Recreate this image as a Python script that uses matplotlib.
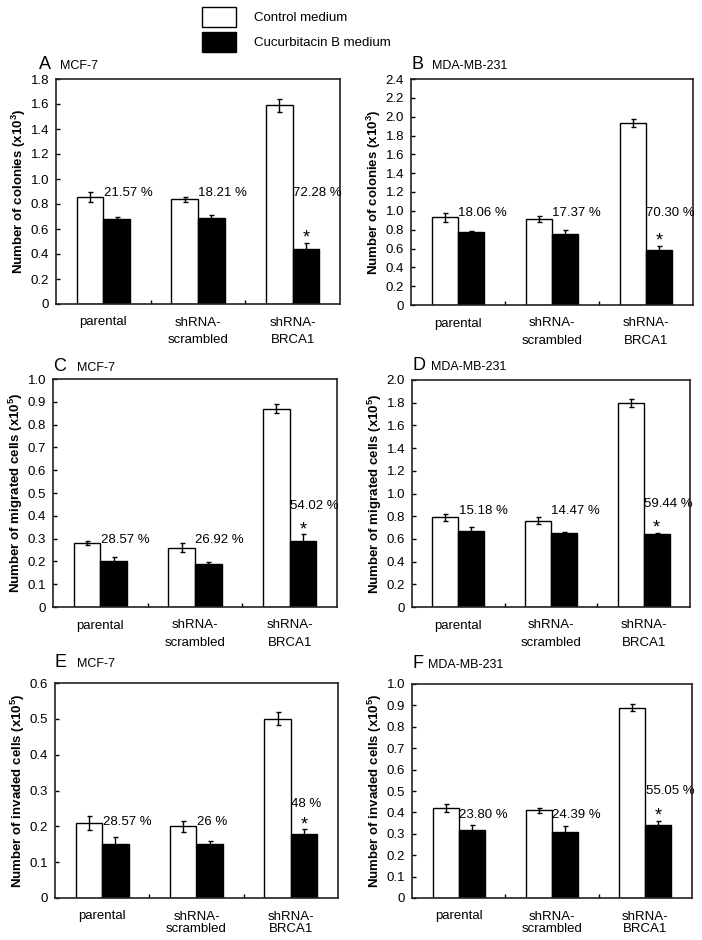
import numpy as np
import matplotlib
matplotlib.use('Agg')
import matplotlib.pyplot as plt
from matplotlib.patches import Patch

plt.rcParams['font.family'] = ['Liberation Sans', 'DejaVu Sans']
plt.rcParams['mathtext.default'] = 'regular'

# Cell lines / groups on the x axis
groups = ['parental', 'shRNA-\nscrambled', 'shRNA-\nBRCA1']

# Colony formation (x10^3)
ctrl_A = [0.86, 0.84, 1.59]
ctrl_A_err = [0.04, 0.02, 0.05]
cuc_A = [0.68, 0.69, 0.44]
cuc_A_err = [0.02, 0.02, 0.05]
pct_A = ['21.57 %', '18.21 %', '72.28 %']

ctrl_B = [0.93, 0.91, 1.93]
ctrl_B_err = [0.045, 0.03, 0.045]
cuc_B = [0.77, 0.75, 0.58]
cuc_B_err = [0.015, 0.05, 0.05]
pct_B = ['18.06 %', '17.37 %', '70.30 %']

# Migration (x10^5)
ctrl_C = [0.28, 0.26, 0.87]
ctrl_C_err = [0.01, 0.02, 0.02]
cuc_C = [0.20, 0.19, 0.29]
cuc_C_err = [0.02, 0.008, 0.03]
pct_C = ['28.57 %', '26.92 %', '54.02 %']

ctrl_D = [0.79, 0.76, 1.80]
ctrl_D_err = [0.03, 0.03, 0.035]
cuc_D = [0.67, 0.65, 0.64]
cuc_D_err = [0.035, 0.008, 0.015]
pct_D = ['15.18 %', '14.47 %', '59.44 %']

# Invasion (x10^5)
ctrl_E = [0.21, 0.20, 0.50]
ctrl_E_err = [0.02, 0.015, 0.018]
cuc_E = [0.15, 0.15, 0.18]
cuc_E_err = [0.02, 0.01, 0.012]
pct_E = ['28.57 %', '26 %', '48 %']

ctrl_F = [0.42, 0.41, 0.89]
ctrl_F_err = [0.02, 0.012, 0.018]
cuc_F = [0.32, 0.31, 0.34]
cuc_F_err = [0.02, 0.025, 0.022]
pct_F = ['23.80 %', '24.39 %', '55.05 %']

W, H = 702, 940

# panel layout: letter, cell line, ylabel, ymax, ystep, axes box (px),
# title positions (letter x, name x, baseline y in px), label heights, x label line spacing
panels = [
    ('A', 'MCF-7', 'Number of colonies (x10$^3$)', 1.8, 0.2, (56, 79, 340, 304), (39, 60, 69),
     ctrl_A, ctrl_A_err, cuc_A, cuc_A_err, pct_A, [0.885, 0.885, 0.885], 1.6),
    ('B', 'MDA-MB-231', 'Number of colonies (x10$^3$)', 2.4, 0.2, (411, 79, 693, 305), (412, 432, 69),
     ctrl_B, ctrl_B_err, cuc_B, cuc_B_err, pct_B, [0.98, 0.98, 0.98], 1.6),
    ('C', 'MCF-7', 'Number of migrated cells (x10$^5$)', 1.0, 0.1, (53, 379, 337, 607), (53, 77, 371),
     ctrl_C, ctrl_C_err, cuc_C, cuc_C_err, pct_C, [0.293, 0.293, 0.444], 1.6),
    ('D', 'MDA-MB-231', 'Number of migrated cells (x10$^5$)', 2.0, 0.2, (412, 380, 690, 607), (413, 431, 370),
     ctrl_D, ctrl_D_err, cuc_D, cuc_D_err, pct_D, [0.847, 0.847, 0.91], 1.6),
    ('E', 'MCF-7', 'Number of invaded cells (x10$^5$)', 0.6, 0.1, (55, 683, 338, 898), (55, 77, 667),
     ctrl_E, ctrl_E_err, cuc_E, cuc_E_err, pct_E, [0.212, 0.212, 0.263], 1.1),
    ('F', 'MDA-MB-231', 'Number of invaded cells (x10$^5$)', 1.0, 0.1, (412, 684, 692, 898), (413, 428, 668),
     ctrl_F, ctrl_F_err, cuc_F, cuc_F_err, pct_F, [0.389, 0.389, 0.498], 1.1),
]

fig = plt.figure(figsize=(W / 100, H / 100), dpi=100)

x = np.arange(len(groups))
bw = 0.28

for (letter, line, ylab, ymax, ystep, box, tpos, ctrl, ctrl_err, cuc, cuc_err,
     pct, pct_y, lsp) in panels:
    l, t, r, b = box
    ax = fig.add_axes([l / W, 1 - b / H, (r - l) / W, (b - t) / H])

    ax.bar(x - bw / 2, ctrl, bw, color='white', edgecolor='black', linewidth=1, zorder=2)
    ax.bar(x + bw / 2, cuc, bw, color='black', edgecolor='black', linewidth=1, zorder=2)
    ax.errorbar(x - bw / 2, ctrl, yerr=ctrl_err, fmt='none', ecolor='black',
                elinewidth=1, capsize=1.8, capthick=1, zorder=3)
    ax.errorbar(x + bw / 2, cuc, yerr=cuc_err, fmt='none', ecolor='black',
                elinewidth=1, capsize=1.8, capthick=1, zorder=3)

    # percent reduction labels
    for i in range(len(groups)):
        ax.text(x[i] + 0.005, pct_y[i], pct[i], ha='left', va='center', fontsize=9.5)

    # significance star on BRCA1 knockdown
    ax.annotate('*', (x[2] + bw / 2, cuc[2] + cuc_err[2]), xytext=(0, 0),
                textcoords='offset points', ha='center', va='baseline', fontsize=13)

    ax.set_xlim(-0.5, 2.5)
    ax.set_ylim(0, ymax)
    ticks = np.round(np.arange(0, ymax + ystep / 2, ystep), 2)
    ax.set_yticks(ticks)
    ax.set_yticklabels(['0' if v == 0 else f'{v:.1f}' for v in ticks])
    ax.set_xticks(x)
    ax.set_xticklabels(groups, linespacing=lsp)
    ax.set_xticks([0.5, 1.5], minor=True)
    ax.tick_params(axis='x', which='major', length=0, pad=9, labelsize=9.5)
    ax.tick_params(axis='x', which='minor', direction='in', length=3, width=1)
    ax.tick_params(axis='y', direction='in', length=3, width=1, pad=5, labelsize=9.5)
    for s in ax.spines.values():
        s.set_linewidth(1.2)
        s.set_color('#222222')
    ax.set_ylabel(ylab, fontsize=9.5, fontweight='bold', labelpad=2)

    # panel letter and cell line name
    lx, nx, ty = tpos
    fig.text(lx / W, 1 - ty / H, letter, fontsize=13, va='baseline')
    fig.text(nx / W, 1 - ty / H, line, fontsize=9, va='baseline')

handles = [Patch(facecolor='white', edgecolor='black', linewidth=1),
           Patch(facecolor='black', edgecolor='black', linewidth=1)]
fig.legend(handles, ['Control medium', 'Cucurbitacin B medium'], loc='upper left',
           bbox_to_anchor=(202 / W, 1 - 7 / H), frameon=False, fontsize=9.5,
           borderpad=0, borderaxespad=0, handlelength=2.6, handleheight=1.9,
           labelspacing=0.45, handletextpad=1.35)

fig.savefig('out.png', dpi=100)
